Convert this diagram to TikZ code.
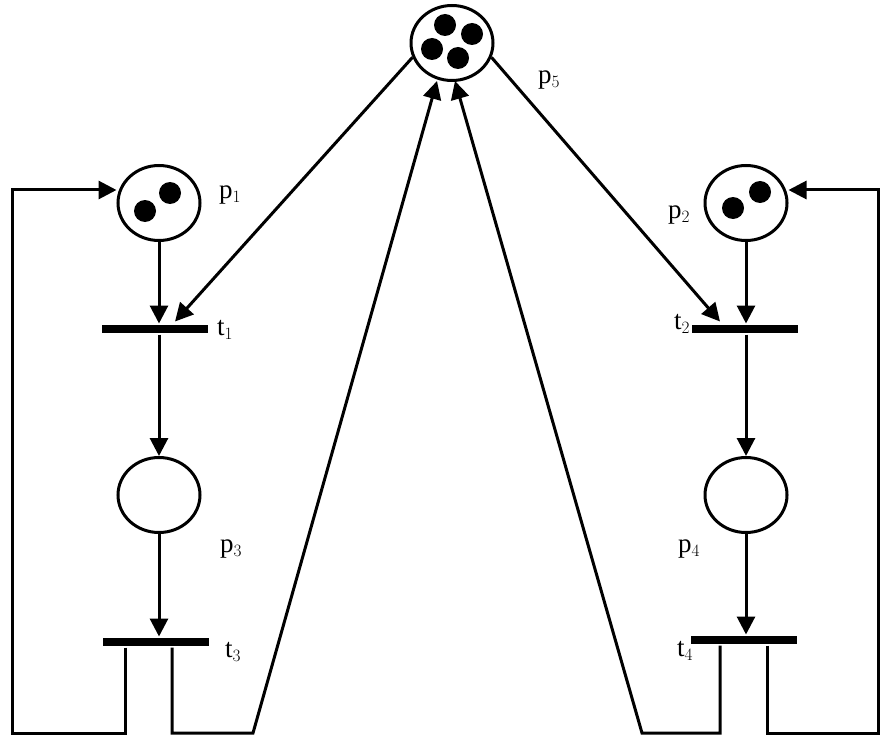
\documentclass[tikz,border=0pt]{standalone}
\usepackage{fontspec}
\setmainfont{Liberation Serif}
\usetikzlibrary{shapes.geometric,arrows.meta,calc}
\begin{document}
\begin{tikzpicture}[x=1pt,y=-1pt,
  line width=3pt,
  place/.style={draw,ellipse,minimum width=82pt,minimum height=75pt,inner sep=0pt,line width=3pt},
  trans/.style={fill=black,minimum width=106pt,minimum height=8pt,inner sep=0pt},
  token/.style={fill=black,circle,minimum size=22pt,inner sep=0pt},
  lbl/.style={font=\fontsize{27}{29}\selectfont,inner sep=0pt},
  arc/.style={-{Triangle[length=18pt,width=18pt]}}]
\useasboundingbox (0,0) rectangle (880,738);
% places
\node[place] (p5) at (452,43) {};
\node[token] at (445,25) {};
\node[token] at (472,34) {};
\node[token] at (432,49) {};
\node[token] at (458,58) {};
\node[place] (p1) at (159,203) {};
\node[token] at (145,211) {};
\node[token] at (170,193) {};
\node[place] (p2) at (746,203) {};
\node[token] at (733,208) {};
\node[token] at (760,192) {};
\node[place] (p3) at (159,495) {};
\node[place] (p4) at (746,495) {};
% transitions
\node[trans] (t1) at (155,329) {};
\node[trans] (t2) at (745,329) {};
\node[trans] (t3) at (156,642) {};
\node[trans] (t4) at (744,640) {};
% labels
\node[lbl] at (230,195) {p$_1$};
\node[lbl] at (679,215) {p$_2$};
\node[lbl] at (231,549) {p$_3$};
\node[lbl] at (689,549) {p$_4$};
\node[lbl] at (549,80) {p$_5$};
\node[lbl] at (225,330) {t$_1$};
\node[lbl] at (682,324) {t$_2$};
\node[lbl] at (233,652) {t$_3$};
\node[lbl] at (685,651) {t$_4$};
% coordinates
\coordinate (a1) at (12,733);
\coordinate (a2) at (12,190);
\coordinate (b1) at (253,733);
\coordinate (c1) at (642,733);
\coordinate (d1) at (878,733);
\coordinate (d2) at (878,190);
% arcs
\draw[arc] (p1.south) -- (p1.south |- t1.north);
\draw[arc] (p1.south |- t1.south) -- (p3.north);
\draw[arc] (p3.south) -- (p3.south |- t3.north);
\draw[arc] (p2.south) -- (p2.south |- t2.north);
\draw[arc] (p2.south |- t2.south) -- (p4.north);
\draw[arc] (p4.south) -- (p4.south |- t4.north);
\draw[arc] (p5.200) -- ($(t1.north)+(20,-2)$);
\draw[arc] (p5.340) -- ($(t2.north)+(-25,-2)$);
% returns from t3
\draw[arc] ($(t3.south)+(-31,0)$) |- (a1) -- (a2) -- (a2 -| p1.west);
\draw[arc] ($(t3.south)+(16,0)$) |- (b1) -- ($(p5.south)+(-15,-1)$);
% returns from t4
\draw[arc] ($(t4.south)+(-24,0)$) |- (c1) -- ($(p5.south)+(3,-1)$);
\draw[arc] ($(t4.south)+(23,0)$) |- (d1) -- (d2) -- (d2 -| p2.east);
\end{tikzpicture}
\end{document}
